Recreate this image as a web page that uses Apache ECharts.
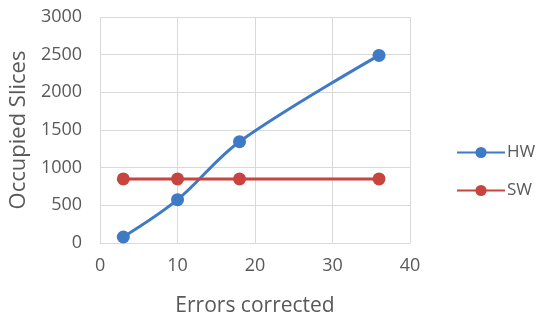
<!DOCTYPE html>
<html>
<head>
<meta charset="utf-8">
<script src="https://cdn.jsdelivr.net/npm/echarts@6/dist/echarts.min.js"></script>
<style>
  html, body { margin: 0; padding: 0; background: #fff; }
  #chart { width: 538px; height: 322px; }
</style>
</head>
<body>
<div id="chart"></div>
<script>
// Errors corrected (x) vs. occupied slices (y)
const errorsCorrected = [3, 10, 18, 36];
const hwSlices = [80, 575, 1345, 2490];
const swSlices = [850, 850, 850, 850];
const seriesNames = ['HW', 'SW'];

const font = '"Open Sans", "Liberation Sans", sans-serif';
const textColor = '#595959';
const gridColor = '#d9d9d9';

const pairs = (xs, ys) => xs.map((x, i) => [x, ys[i]]);

const chart = echarts.init(document.getElementById('chart'), null, { renderer: 'canvas' });
chart.setOption({
  animation: false,
  backgroundColor: '#fff',
  grid: { left: 100, right: 128, top: 17, bottom: 79 },
  legend: {
    orient: 'vertical',
    left: 451,
    top: 139,
    itemGap: 21,
    itemWidth: 48,
    itemHeight: 14,
    textStyle: { fontFamily: font, fontSize: 17, color: textColor, padding: [0, 0, 0, -3] },
    data: seriesNames
  },
  xAxis: {
    type: 'value',
    min: 0, max: 40, interval: 10,
    name: 'Errors corrected',
    nameLocation: 'middle',
    nameGap: 53,
    nameTextStyle: { fontFamily: font, fontSize: 21, color: textColor },
    axisLine: { show: true, lineStyle: { color: gridColor, width: 1 } },
    axisTick: { show: false },
    axisLabel: { fontFamily: font, fontSize: 18, color: textColor, margin: 14 },
    splitLine: { show: true, lineStyle: { color: gridColor, width: 1 } }
  },
  yAxis: {
    type: 'value',
    min: 0, max: 3000, interval: 500,
    name: 'Occupied Slices',
    nameLocation: 'middle',
    nameGap: 70,
    nameTextStyle: { fontFamily: font, fontSize: 22, color: textColor },
    axisLine: { show: false },
    axisTick: { show: false },
    axisLabel: { fontFamily: font, fontSize: 18, color: textColor, margin: 18, formatter: v => String(v) },
    splitLine: { show: true, lineStyle: { color: gridColor, width: 1 } }
  },
  series: [
    {
      name: seriesNames[0],
      type: 'line',
      smooth: 0.35,
      data: pairs(errorsCorrected, hwSlices),
      symbol: 'circle',
      symbolSize: 13,
      itemStyle: { color: '#3f7ac7' },
      lineStyle: { color: '#3f7ac7', width: 3 }
    },
    {
      name: seriesNames[1],
      type: 'line',
      data: pairs(errorsCorrected, swSlices),
      symbol: 'circle',
      symbolSize: 13,
      itemStyle: { color: '#c8453f' },
      lineStyle: { color: '#c8453f', width: 3 }
    }
  ]
});
</script>
</body>
</html>
